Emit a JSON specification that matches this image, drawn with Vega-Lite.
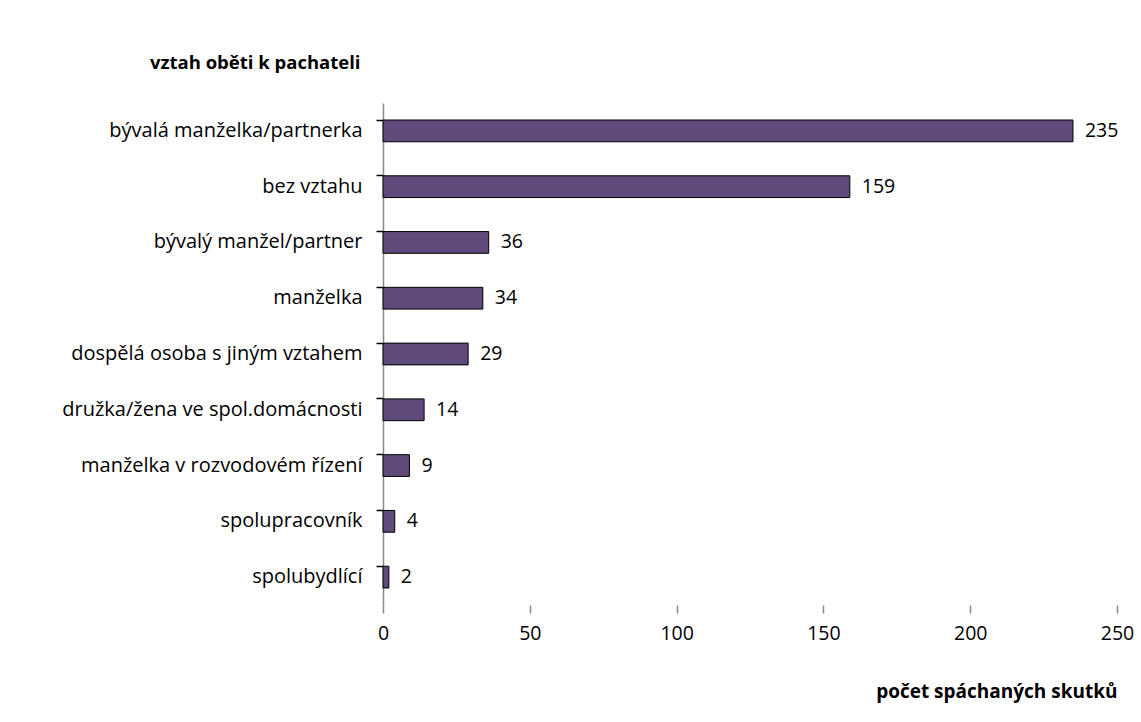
{
  "$schema": "https://vega.github.io/schema/vega-lite/v6.json",
  "width": 734,
  "height": 502,
  "autosize": {"type": "none"},
  "padding": {"left": 383, "top": 103, "right": 24, "bottom": 117},
  "background": "white",
  "config": {
    "view": {"stroke": null},
    "font": "Open Sans",
    "axis": {"labelFont": "Open Sans", "titleFont": "Open Sans"}
  },
  "data": {
    "values": [
      {"vztah": "bývalá manželka/partnerka", "pocet": 235},
      {"vztah": "bez vztahu", "pocet": 159},
      {"vztah": "bývalý manžel/partner", "pocet": 36},
      {"vztah": "manželka", "pocet": 34},
      {"vztah": "dospělá osoba s jiným vztahem", "pocet": 29},
      {"vztah": "družka/žena ve spol.domácnosti", "pocet": 14},
      {"vztah": "manželka v rozvodovém řízení", "pocet": 9},
      {"vztah": "spolupracovník", "pocet": 4},
      {"vztah": "spolubydlící", "pocet": 2}
    ]
  },
  "layer": [
    {
      "mark": {"type": "bar", "fill": "#604a7b", "stroke": "#000000", "strokeWidth": 1},
      "encoding": {
        "y": {
          "field": "vztah",
          "type": "nominal",
          "sort": null,
          "scale": {"paddingInner": 0.61, "paddingOuter": 0.305},
          "axis": {
            "orient": "left",
            "title": "vztah oběti k pachateli",
            "titleAngle": 0,
            "titleAlign": "right",
            "titleBaseline": "middle",
            "titleX": -23,
            "titleY": -41,
            "titleFontSize": 18.5,
            "titleFontWeight": "bold",
            "titleColor": "#000000",
            "ticks": false,
            "domain": false,
            "labelPadding": 21,
            "labelFontSize": 20,
            "labelLimit": 0,
            "labelColor": "#000000"
          }
        },
        "x": {
          "field": "pocet",
          "type": "quantitative",
          "scale": {"domain": [0, 250], "nice": false},
          "axis": {
            "title": "počet spáchaných skutků",
            "titleAnchor": "end",
            "titleAlign": "right",
            "titleX": 734,
            "titleY": 92,
            "titleBaseline": "alphabetic",
            "titleFontSize": 19,
            "titleFontWeight": "bold",
            "titleColor": "#000000",
            "values": [0, 50, 100, 150, 200, 250],
            "domain": false,
            "grid": false,
            "tickColor": "#888888",
            "tickSize": 8,
            "tickWidth": 1.5,
            "labelPadding": 11,
            "labelFlush": false,
            "labelOverlap": false,
            "labelFontSize": 19.5,
            "labelColor": "#000000"
          }
        }
      }
    },
    {
      "mark": {"type": "text", "align": "left", "baseline": "middle", "dx": 12, "fontSize": 19.5, "color": "#000000"},
      "encoding": {
        "text": {"field": "pocet", "type": "quantitative"},
        "y": {
          "field": "vztah",
          "type": "nominal",
          "sort": null,
          "axis": {
            "orient": "left",
            "title": null,
            "labels": false,
            "bandPosition": 0,
            "domain": true,
            "domainColor": "#888888",
            "domainWidth": 1.5,
            "ticks": true,
            "tickColor": "#000000",
            "tickSize": 7,
            "tickWidth": 1.5
          }
        },
        "x": {"field": "pocet", "type": "quantitative"}
      }
    }
  ],
  "resolve": {"axis": {"y": "independent"}}
}
